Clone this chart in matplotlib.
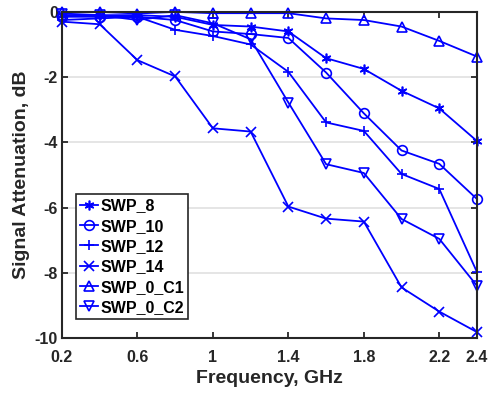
import matplotlib
matplotlib.use("Agg")
import matplotlib.pyplot as plt

plt.rcParams['font.family'] = ['Liberation Sans', 'DejaVu Sans']
plt.rcParams['font.weight'] = 'bold'
plt.rcParams['axes.unicode_minus'] = False

freq = [0.2, 0.4, 0.6, 0.8, 1.0, 1.2, 1.4, 1.6, 1.8, 2.0, 2.2, 2.4]

# signal attenuation (dB)
swp_8 = [-0.1, -0.1, -0.1, -0.15, -0.4, -0.45, -0.6, -1.42, -1.75, -2.42, -2.96, -3.96]
swp_10 = [-0.15, -0.15, -0.15, -0.25, -0.6, -0.68, -0.8, -1.86, -3.11, -4.25, -4.66, -5.74]
swp_12 = [-0.25, -0.2, -0.15, -0.55, -0.74, -1.0, -1.84, -3.39, -3.65, -4.97, -5.43, -7.98]
swp_14 = [-0.3, -0.38, -1.48, -1.98, -3.57, -3.67, -5.97, -6.34, -6.43, -8.45, -9.19, -9.82]
swp_0_c1 = [0.0, 0.0, -0.05, 0.0, -0.04, -0.04, -0.04, -0.2, -0.25, -0.45, -0.89, -1.37]
swp_0_c2 = [-0.05, -0.1, -0.25, -0.1, -0.35, -0.84, -2.78, -4.67, -4.94, -6.35, -6.96, -8.4]

series = [
    ("SWP_8", swp_8, (6, 2, 0)),
    ("SWP_10", swp_10, 'o'),
    ("SWP_12", swp_12, '+'),
    ("SWP_14", swp_14, 'x'),
    ("SWP_0_C1", swp_0_c1, '^'),
    ("SWP_0_C2", swp_0_c2, 'v'),
]

xticks = [0.2, 0.6, 1.0, 1.4, 1.8, 2.2, 2.4]
xticklabels = ["0.2", "0.6", "1", "1.4", "1.8", "2.2", "2.4"]
yticks = [0, -2, -4, -6, -8, -10]

fig = plt.figure(figsize=(4.92, 3.96), dpi=100)
ax = fig.add_axes([0.126, 0.1465, 0.8435, 0.8235])

for name, vals, m in series:
    ax.plot(freq, vals, color='#0000ff', lw=1.3, marker=m, markersize=7,
            markerfacecolor='none', markeredgewidth=1.2, label=name, clip_on=False)

ax.set_xlim(0.2, 2.4)
ax.set_ylim(-10, 0)
ax.set_xticks(xticks)
ax.set_xticklabels(xticklabels)
ax.set_yticks(yticks)
ax.yaxis.grid(True, color='#e0e0e0', lw=1.2)
ax.set_axisbelow(True)
ax.tick_params(direction='in', top=True, right=True, labelsize=11.5, width=1.3, length=4,
               color='#262626', labelcolor='#262626')
ax.tick_params(axis='x', pad=8.5)
ax.tick_params(axis='y', pad=3)
for s in ax.spines.values():
    s.set_linewidth(1.5)
    s.set_color('#262626')

ax.set_xlabel("Frequency, GHz", fontsize=14, fontweight='bold', color='#262626', labelpad=4)
ax.set_ylabel("Signal Attenuation, dB", fontsize=14, fontweight='bold', color='#262626', labelpad=3)

leg = ax.legend(loc='upper left', bbox_to_anchor=(0.033, 0.44), fontsize=11.5, handlelength=1.15,
                handletextpad=0.15, borderpad=0.25, labelspacing=0.33, fancybox=False,
                framealpha=1, borderaxespad=0)
leg.get_frame().set_edgecolor('#262626')
leg.get_frame().set_linewidth(1.2)
for t in leg.get_texts():
    t.set_color('black')

fig.savefig("out.png", dpi=100)
